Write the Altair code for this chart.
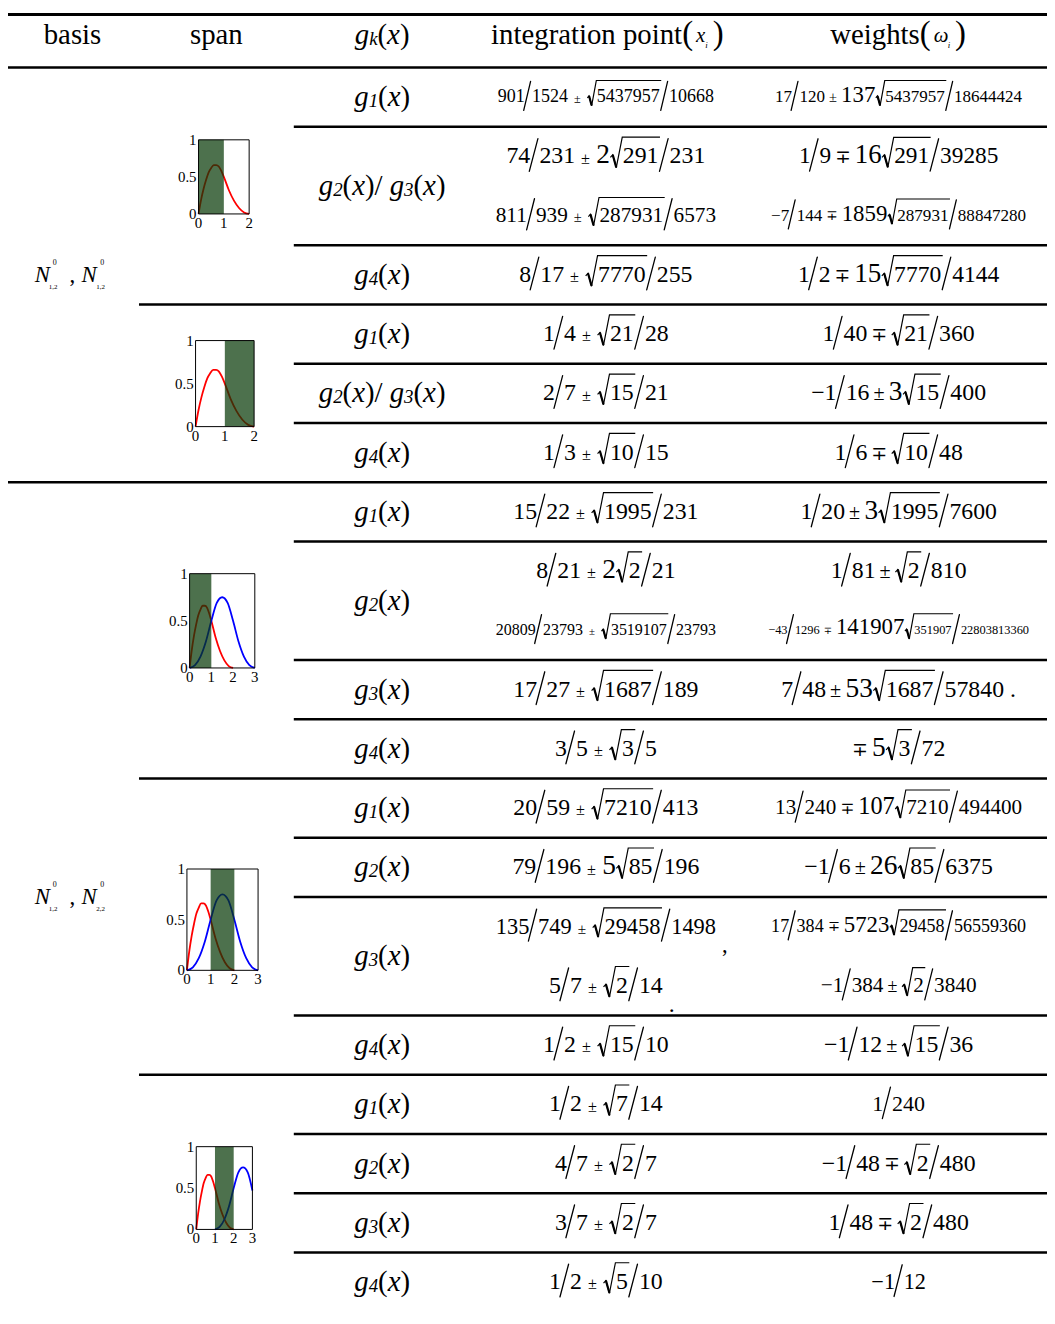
import altair as alt
import pandas as pd

# ================= table content =================
BASIS_SUB_A = ["1,2", "1,2"]          # subscripts of first N^0 in each basis group
BASIS_SUB_B = ["1,2", "2,2"]          # subscripts of second N^0
BASIS_ROWS = [(0, 7), (7, 21)]        # row units covered by each basis group
ROW_UNITS = [1, 2, 1, 1, 1, 1, 1, 2, 1, 1, 1, 1, 2, 1, 1, 1, 1, 1]
G_LABELS = ["1", "2/3", "4", "1", "2/3", "4", "1", "2", "3", "4",
            "1", "2", "3", "4", "1", "2", "3", "4"]
SPAN_RULES = [4, 12, 17]
BASIS_RULES = [7]

# expression = (lead numerator, lead denominator, sign, coefficient, radicand, denominator, suffix)
INT_POINTS = [
    [("901", "1524", "±", "", "5437957", "10668", "")],
    [("74", "231", "±", "2", "291", "231", ""), ("811", "939", "±", "", "287931", "6573", "")],
    [("8", "17", "±", "", "7770", "255", "")],
    [("1", "4", "±", "", "21", "28", "")],
    [("2", "7", "±", "", "15", "21", "")],
    [("1", "3", "±", "", "10", "15", "")],
    [("15", "22", "±", "", "1995", "231", "")],
    [("8", "21", "±", "2", "2", "21", ""), ("20809", "23793", "±", "", "3519107", "23793", "")],
    [("17", "27", "±", "", "1687", "189", "")],
    [("3", "5", "±", "", "3", "5", "")],
    [("20", "59", "±", "", "7210", "413", "")],
    [("79", "196", "±", "5", "85", "196", "")],
    [("135", "749", "±", "", "29458", "1498", ","), ("5", "7", "±", "", "2", "14", ".")],
    [("1", "2", "±", "", "15", "10", "")],
    [("1", "2", "±", "", "7", "14", "")],
    [("4", "7", "±", "", "2", "7", "")],
    [("3", "7", "±", "", "2", "7", "")],
    [("1", "2", "±", "", "5", "10", "")],
]
WEIGHTS = [
    [("17", "120", "±", "137", "5437957", "18644424", "")],
    [("1", "9", "∓", "16", "291", "39285", ""), ("−7", "144", "∓", "1859", "287931", "88847280", "")],
    [("1", "2", "∓", "15", "7770", "4144", "")],
    [("1", "40", "∓", "", "21", "360", "")],
    [("−1", "16", "±", "3", "15", "400", "")],
    [("1", "6", "∓", "", "10", "48", "")],
    [("1", "20", "±", "3", "1995", "7600", "")],
    [("1", "81", "±", "", "2", "810", ""), ("−43", "1296", "∓", "141907", "351907", "22803813360", "")],
    [("7", "48", "±", "53", "1687", "57840", ".")],
    [("", "", "∓", "5", "3", "72", "")],
    [("13", "240", "∓", "107", "7210", "494400", "")],
    [("−1", "6", "±", "26", "85", "6375", "")],
    [("17", "384", "∓", "5723", "29458", "56559360", ""), ("−1", "384", "±", "", "2", "3840", "")],
    [("−1", "12", "±", "", "15", "36", "")],
    [("1", "240", "", "", "", "", "")],
    [("−1", "48", "∓", "", "2", "480", "")],
    [("1", "48", "∓", "", "2", "480", "")],
    [("−1", "12", "", "", "", "", "")],
]

# mini plots of the basis functions
RED_X = [0, 0.1, 0.2, 0.3, 0.4, 0.5, 0.6, 0.7, 0.8, 0.9, 1.0, 1.2, 1.4, 1.6, 1.8, 2.0]
RED_Y = [0, 0.19, 0.34, 0.46, 0.56, 0.62, 0.66, 0.66, 0.64, 0.58, 0.50, 0.32, 0.18, 0.08, 0.02, 0]
BLUE_X = [0, 0.25, 0.5, 0.75, 1.0, 1.25, 1.5, 1.75, 2.0, 2.25, 2.5, 2.75, 3.0]
BLUE_Y = [0, 0.03, 0.12, 0.28, 0.5, 0.69, 0.75, 0.69, 0.5, 0.28, 0.12, 0.03, 0]
BLUE5_X = [1.0, 1.25, 1.5, 1.75, 2.0, 2.25, 2.5, 2.75, 3.0]
BLUE5_Y = [0, 0.03, 0.12, 0.28, 0.5, 0.69, 0.75, 0.69, 0.47]
MINI_XMAX = [2, 2, 3, 3, 3]
MINI_SPAN = [(0, 1), (1, 2), (0, 1), (1, 2), (1, 2)]
MINI_CURVES = [["red"], ["red"], ["red", "blue"], ["red", "blue"], ["red", "blue5"]]
Y_TICKS = [0, 0.5, 1]
Y_TICK_TEXT = ["0", "0.5", "1"]

# ================= layout / style =================
W, H = 1047, 1308
TOP = 55.0
ROW = 59.7
COL_X = {"basis": 27, "g": 377, "int": 602.5, "w": 897.5}
RULE_START = {"full": 0, "span": 132, "g": 288}
# widths (px) that each cell occupies in the reference; font size is fitted to them
INT_TW = [218, (201, 222), 179, 134, 135, 132, 189, (150, 222), 189, 114, 191, 190, (222, 115),
          130, 123, 116, 115, 123]
W_TW = [249, (201, 257), 203, 159, 182, 136, 198, (142, 263), 238, 102, 249, 194, (257, 157),
        158, 53, 162, 150, 55]
MINI_BOX = [(192, 243, 127.8, 202.5), (189, 248, 330.1, 416.8), (183, 248.7, 565, 660),
            (180.3, 252, 862.6, 964.7), (189.7, 246.3, 1142.4, 1225.8)]
SERIF = "Liberation Serif"
FMAX = 24

REG = {c: 0.5 for c in "0123456789"}
REG.update({' ': 0.25, '/': 0.278, '(': 0.333, ')': 0.333, ',': 0.25, '.': 0.25, '±': 0.564,
            '−': 0.564, 'a': 0.444, 'b': 0.5, 'c': 0.444, 'd': 0.5, 'e': 0.444, 'f': 0.333,
            'g': 0.5, 'h': 0.5, 'i': 0.278, 'j': 0.278, 'k': 0.5, 'l': 0.278, 'm': 0.778,
            'n': 0.5, 'o': 0.5, 'p': 0.5, 'q': 0.5, 'r': 0.333, 's': 0.389, 't': 0.278,
            'u': 0.5, 'v': 0.5, 'w': 0.722, 'x': 0.5, 'y': 0.5, 'z': 0.444})
ITA = dict(REG)
ITA.update({'k': 0.444, 'x': 0.444, 'N': 0.667, 'ω': 0.667})
DV = {'∓': 0.838}


def tw(s, fs, st="reg"):
    tab = ITA if st == "ita" else (DV if st == "dv" else REG)
    return sum(tab.get(c, 0.5) for c in s) * fs


out = {"reg": [], "ita": [], "dv": [], "slash": [], "rad": [], "thick": []}


def sl_adv(f):
    return 0.3 * max(f, 18) + 2


def rad_lead(f):
    return 0.5 * max(f, 18) + 1


def run_width(toks):
    w = 0.0
    for t in toks:
        if t[0] == "t":
            w += tw(t[1], t[2], t[3])
        elif t[0] == "gap":
            w += t[1]
        elif t[0] == "sl":
            w += sl_adv(t[1])
        elif t[0] == "rad":
            w += rad_lead(t[2]) + tw(t[1], t[2]) + 2
    return w


def place(toks, cx, yc, align="center"):
    x = cx - run_width(toks) / 2 if align == "center" else cx
    for t in toks:
        if t[0] == "t":
            out[t[3]].append(dict(x=x, y=yc + t[4], t=t[1], fs=t[2]))
            x += tw(t[1], t[2], t[3])
        elif t[0] == "gap":
            x += t[1]
        elif t[0] == "sl":
            fr = max(t[1], 18)
            a = sl_adv(t[1])
            out["slash"].append(dict(x=x - 1, y=yc + (0.3 * fr + 7.8), x2=x + a - 1.5, y2=yc - (0.35 * fr + 9.6)))
            x += a
        elif t[0] == "rad":
            f = t[2]
            fr = max(f, 18)
            s = fr / 24.0
            top = yc - (0.45 * fr + 8.7)
            lead = rad_lead(f)
            end = x + lead + tw(t[1], f) + 1.5
            gid = len(set(r["g"] for r in out["rad"]))
            pts = [(x + 0.5, yc + 1 * s), (x + 2.8 * s, yc - 1.5 * s), (x + 6.5 * s, yc + 11 * s),
                   (x + lead - 0.5, top), (end, top)]
            for k, (px, py) in enumerate(pts):
                out["rad"].append(dict(g=gid, o=k, x=px, y=py))
            out["thick"].append(dict(x=pts[1][0] + 0.3, y=pts[1][1] + 0.5, x2=pts[2][0] - 0.2, y2=pts[2][1] - 0.5))
            out["reg"].append(dict(x=x + lead, y=yc, t=t[1], fs=f))
            x = end + 0.5
    return x


def expr_tokens(e, f, col):
    lead, den, op, coef, rad, den2, suf = e
    fc = 1.15 * f if f >= 21 else 23
    toks = []
    if lead:
        toks.append(("t", lead, f, "reg", 0))
    if den:
        toks += [("sl", f), ("t", den, f, "reg", 0)]
    if op:
        g = 6 if col == "int" else 4
        if toks:
            toks.append(("gap", g))
        if op == "∓":
            fo = 0.8 * f
            toks.append(("t", op, fo, "dv", 0.3 * (f - fo) - 0.5))
        else:
            fo = (0.68 if col == "int" else 0.85) * f
            toks.append(("t", op, fo, "reg", 0.3 * (f - fo)))
        toks.append(("gap", g))
    if coef:
        toks.append(("t", coef, fc, "reg", 0.3 * (f - fc)))
    if rad:
        toks.append(("rad", rad, f))
    if den2:
        toks += [("sl", f), ("t", den2, f, "reg", 0)]
    if suf and col == "w":
        toks += [("gap", 0.25 * f), ("t", suf, f, "reg", 0)]
    return toks


def fit_f(e, target, col):
    if run_width(expr_tokens(e, FMAX, col)) <= target:
        return FMAX
    lo, hi = 8.0, float(FMAX)
    for _ in range(40):
        mid = (lo + hi) / 2
        if run_width(expr_tokens(e, mid, col)) > target:
            hi = mid
        else:
            lo = mid
    return lo


def g_tokens(lbl):
    F, S = 29, 19

    def one(n):
        return [("t", "g", F, "ita", 0), ("t", n, S, "ita", 4), ("t", "(", F, "reg", 0),
                ("t", "x", F, "ita", 0), ("t", ")", F, "reg", 0)]
    if "/" in lbl:
        a, b = lbl.split("/")
        return one(a) + [("t", "/", F, "reg", 0), ("gap", 0.25 * F)] + one(b)
    return one(lbl)


# ---- header ----
HY = 22
place([("t", "basis", 29, "reg", 0)], 65, HY)
place([("t", "span", 29, "reg", 0)], 210, HY)
place([("t", "g", 29, "ita", 0), ("t", "k", 19, "ita", 4), ("t", "(", 29, "reg", 0),
       ("t", "x", 29, "ita", 0), ("t", ")", 29, "reg", 0)], 377, HY)
place([("t", "integration point", 29, "reg", 0), ("t", "(", 33, "reg", -1), ("gap", 3),
       ("t", "x", 21, "ita", 1), ("t", "i", 9, "ita", 10), ("gap", 5), ("t", ")", 33, "reg", -1)], 604, HY)
place([("t", "weights", 29, "reg", 0), ("t", "(", 33, "reg", -1), ("gap", 3),
       ("t", "ω", 21, "ita", 1), ("t", "i", 9, "ita", 10), ("gap", 5), ("t", ")", 33, "reg", -1)], 897, HY)

# ---- basis labels ----
for k, (u0, u1) in enumerate(BASIS_ROWS):
    yc = TOP + (u0 + u1) / 2 * ROW
    x0 = COL_X["basis"]
    out["ita"].append(dict(x=x0, y=yc, t="N", fs=23))
    out["reg"].append(dict(x=x0 + 18, y=yc - 12, t="0", fs=8))
    out["reg"].append(dict(x=x0 + 14, y=yc + 12, t=BASIS_SUB_A[k], fs=7))
    out["reg"].append(dict(x=x0 + 35, y=yc, t=",", fs=23))
    out["ita"].append(dict(x=x0 + 47, y=yc, t="N", fs=23))
    out["reg"].append(dict(x=x0 + 66, y=yc - 12, t="0", fs=8))
    out["reg"].append(dict(x=x0 + 62, y=yc + 12, t=BASIS_SUB_B[k], fs=7))

# ---- rows ----
cum = 0
for i, ru in enumerate(ROW_UNITS):
    yc = TOP + (cum + ru / 2) * ROW
    place(g_tokens(G_LABELS[i]), COL_X["g"], yc)
    for col, data, twl in (("int", INT_POINTS, INT_TW), ("w", WEIGHTS, W_TW)):
        lines = data[i]
        tws = list(twl[i]) if isinstance(twl[i], tuple) else [twl[i]] * len(lines)
        for j, e in enumerate(lines):
            ly = TOP + (cum + j + 0.5) * ROW if len(lines) > 1 else yc
            f = fit_f(e, tws[j], col)
            end = place(expr_tokens(e, f, col), COL_X[col], ly)
            if e[6] and col == "int":
                out["reg"].append(dict(x=end + 6, y=ly + 19, t=e[6], fs=f))
    cum += ru

# ---- horizontal rules ----
rules = [dict(x=0, x2=W, y=1.5, w=3), dict(x=0, x2=W, y=TOP, w=2.5)]
cum = 0
for ru in ROW_UNITS[:-1]:
    cum += ru
    start = "full" if cum in BASIS_RULES else ("span" if cum in SPAN_RULES else "g")
    rules.append(dict(x=RULE_START[start], x2=W, y=TOP + cum * ROW, w=2.5))

XS = alt.Scale(domain=[0, W], nice=False, zero=False)
YS = alt.Scale(domain=[0, H], reverse=True, nice=False, zero=False)


def text_layer(recs, **kw):
    return alt.Chart(pd.DataFrame(recs)).mark_text(
        align="left", baseline="middle", color="black", **kw
    ).encode(
        x=alt.X("x:Q", scale=XS, axis=None),
        y=alt.Y("y:Q", scale=YS, axis=None),
        text="t:N",
        size=alt.Size("fs:Q", scale=None),
    )


def seg_layer(recs, width):
    return alt.Chart(pd.DataFrame(recs)).mark_rule(color="black", strokeWidth=width, strokeCap="round").encode(
        x=alt.X("x:Q", scale=XS, axis=None), x2="x2:Q",
        y=alt.Y("y:Q", scale=YS, axis=None), y2="y2:Q",
    )


rule_layer = alt.Chart(pd.DataFrame(rules)).mark_rule(color="black").encode(
    x=alt.X("x:Q", scale=XS, axis=None), x2="x2:Q",
    y=alt.Y("y:Q", scale=YS, axis=None),
    strokeWidth=alt.StrokeWidth("w:Q", scale=None),
)
rad_layer = alt.Chart(pd.DataFrame(out["rad"])).mark_line(color="black", strokeWidth=1.2).encode(
    x=alt.X("x:Q", scale=XS, axis=None),
    y=alt.Y("y:Q", scale=YS, axis=None),
    detail="g:N", order="o:Q",
)

table = alt.layer(
    rule_layer, seg_layer(out["slash"], 1.3), rad_layer, seg_layer(out["thick"], 2.2),
    text_layer(out["reg"], font=SERIF),
    text_layer(out["ita"], font=SERIF, fontStyle="italic"),
    text_layer(out["dv"], font="DejaVu Serif"),
)

# ---- mini plots ----
CURVE_DATA = {"red": (RED_X, RED_Y), "blue": (BLUE_X, BLUE_Y), "blue5": (BLUE5_X, BLUE5_Y)}
curve_rows = []
for k, names in enumerate(MINI_CURVES):
    for nm in names:
        xs_, ys_ = CURVE_DATA[nm]
        for o, (cx, cy) in enumerate(zip(xs_, ys_)):
            curve_rows.append(dict(pid=k, c="red" if nm == "red" else "blue", o=o, x=cx, y=cy))
curves_df = pd.DataFrame(curve_rows)


def mini_chart(k):
    L, R, T, B = MINI_BOX[k]
    xmax = MINI_XMAX[k]
    xs = alt.Scale(domain=[0, xmax], range=[L, R], nice=False, zero=False)
    ys = alt.Scale(domain=[0, 1], range=[B, T], nice=False, zero=False)
    box = pd.DataFrame([dict(a=MINI_SPAN[k][0], b=MINI_SPAN[k][1], x0=0, x1=xmax, y0=0, y1=1)])
    xlab = pd.DataFrame([dict(x=v, y=0, t=str(v)) for v in range(xmax + 1)])
    ylab = pd.DataFrame([dict(x=0, y=v, t=s) for v, s in zip(Y_TICKS, Y_TICK_TEXT)])
    lines = alt.Chart(curves_df[curves_df["pid"] == k]).mark_line(strokeWidth=1.8, interpolate="monotone").encode(
        x=alt.X("x:Q", scale=xs, axis=None),
        y=alt.Y("y:Q", scale=ys, axis=None),
        color=alt.Color("c:N", scale=alt.Scale(domain=["red", "blue"], range=["#ff0000", "#0000ff"]), legend=None),
        detail="c:N", order="o:Q",
    )
    green = alt.Chart(box).mark_rect(fill="#083a08", opacity=0.72).encode(
        x=alt.X("a:Q", scale=xs, axis=None), x2="b:Q",
        y=alt.Y("y0:Q", scale=ys, axis=None), y2="y1:Q",
    )
    frame = alt.Chart(box).mark_rect(fillOpacity=0, stroke="black", strokeWidth=1).encode(
        x=alt.X("x0:Q", scale=xs, axis=None), x2="x1:Q",
        y=alt.Y("y0:Q", scale=ys, axis=None), y2="y1:Q",
    )
    xt = alt.Chart(xlab).mark_text(font=SERIF, fontSize=15, color="black", baseline="middle",
                                   align="center", dy=9).encode(
        x=alt.X("x:Q", scale=xs, axis=None), y=alt.Y("y:Q", scale=ys, axis=None), text="t:N")
    yt = alt.Chart(ylab).mark_text(font=SERIF, fontSize=15, color="black", baseline="middle",
                                   align="right", dx=-2).encode(
        x=alt.X("x:Q", scale=xs, axis=None), y=alt.Y("y:Q", scale=ys, axis=None), text="t:N")
    return alt.layer(lines, green, frame, xt, yt)


chart = alt.layer(table, *[mini_chart(k) for k in range(5)]).resolve_scale(
    x="independent", y="independent", color="independent"
).properties(
    width=W, height=H, padding=0, autosize=alt.AutoSizeParams(type="none"),
    background="white",
).configure_view(stroke=None)

chart.save("out.html", embed_options={"renderer": "svg", "actions": False})
